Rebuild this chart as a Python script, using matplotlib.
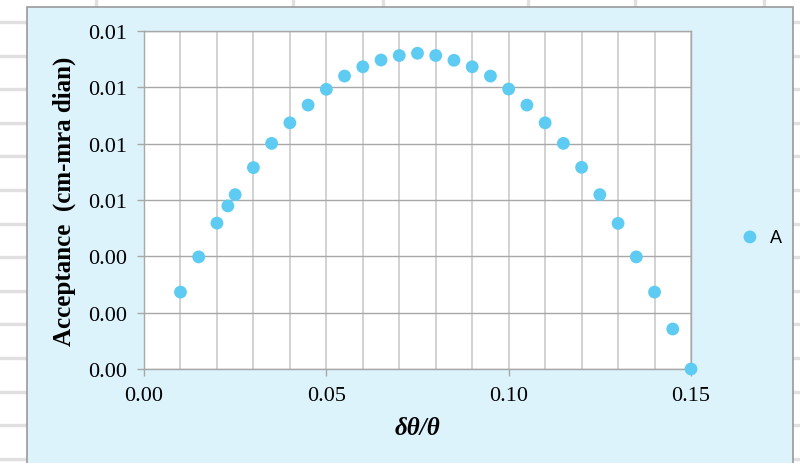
import numpy as np
import matplotlib.pyplot as plt
from matplotlib.lines import Line2D
from matplotlib.patches import Rectangle

## data ##
dtheta = [0.010, 0.015, 0.020, 0.023, 0.025, 0.030, 0.035, 0.040, 0.045, 0.050,
          0.055, 0.060, 0.065, 0.070, 0.075, 0.080, 0.085, 0.090, 0.095, 0.100,
          0.105, 0.110, 0.115, 0.120, 0.125, 0.130, 0.135, 0.140, 0.145, 0.150]
accept = [0.00273, 0.00398, 0.00518, 0.00579, 0.00619, 0.00715, 0.00801, 0.00874, 0.00937, 0.00993,
          0.01040, 0.01073, 0.01097, 0.01113, 0.01121, 0.01113, 0.01096, 0.01073, 0.01040, 0.00994,
          0.00937, 0.00874, 0.00801, 0.00716, 0.00619, 0.00517, 0.00398, 0.00273, 0.00142, 0.0]
series_name = "A"

x_ticks = [0.00, 0.05, 0.10, 0.15]
y_ticks = [0.000, 0.002, 0.004, 0.006, 0.008, 0.010, 0.012]

W, H = 800, 464
fig = plt.figure(figsize=(W / 100, H / 100), dpi=100)
fig.patch.set_facecolor("white")

## sheet grid behind the chart ##
row_y = [23 + 33.6 * i for i in range(14)]
col_x = [96, 293, 383, 528, 635, 764]
for ry in row_y:
    fig.add_artist(Line2D([0, 1], [1 - ry / H, 1 - ry / H], color="#E0E0E0", lw=2.4,
                          transform=fig.transFigure, zorder=0))
for cx in col_x:
    fig.add_artist(Line2D([cx / W, cx / W], [1 - 8 / H, 1], color="#E0E0E0", lw=2.4,
                          transform=fig.transFigure, zorder=0))

## chart area ##
fig.add_artist(Rectangle((27 / W, -0.05), (793 - 27) / W, 1.05 - 8 / H,
                         facecolor="#DDF3FC", edgecolor="#9A9A9A", lw=1.2,
                         transform=fig.transFigure, zorder=1))

ax = fig.add_axes([144 / W, (H - 370) / H, (691 - 144) / W, (370 - 32) / H], zorder=2)
ax.set_facecolor("white")

ax.scatter(dtheta, accept, s=85, color="#5ECBF2", edgecolors="none",
           zorder=5, clip_on=False, label=series_name)

ax.set_xlim(0, 0.15)
ax.set_ylim(0, 0.012)
ax.set_xticks(x_ticks)
ax.set_xticks(np.arange(0, 0.1501, 0.01), minor=True)
ax.set_yticks(y_ticks)
ax.set_xticklabels(["%.2f" % v for v in x_ticks])
ax.set_yticklabels(["%.2f" % v for v in y_ticks])

# gridlines
ax.grid(True, which="minor", axis="x", color="#CFCFCF", lw=1.3)
ax.grid(True, which="major", axis="x", color="#CFCFCF", lw=1.3)
ax.grid(True, which="major", axis="y", color="#A8A8A8", lw=1.0)
ax.set_axisbelow(True)
for sp in ax.spines.values():
    sp.set_color("#A8A8A8")
    sp.set_linewidth(1.0)

ax.tick_params(axis="both", which="major", length=5, color="#A8A8A8", width=1.0,
               labelsize=16, pad=7)
ax.tick_params(axis="x", which="minor", length=0)
for lab in ax.get_xticklabels() + ax.get_yticklabels():
    lab.set_fontfamily("Liberation Serif")

ax.set_ylabel("Acceptance  (cm-mra dian)", fontsize=18, fontweight="bold",
              family="Liberation Serif", labelpad=9)
ax.set_xlabel("δθ/θ", fontsize=18, fontweight="bold", fontstyle="italic",
              family="Liberation Serif", labelpad=8)

leg = ax.legend(loc="center left", bbox_to_anchor=(1.045, 0.39), frameon=False,
                handletextpad=0.1, markerscale=1.0,
                prop={"family": "Liberation Sans", "size": 13})

fig.savefig("out.png", dpi=100, facecolor=fig.get_facecolor())
